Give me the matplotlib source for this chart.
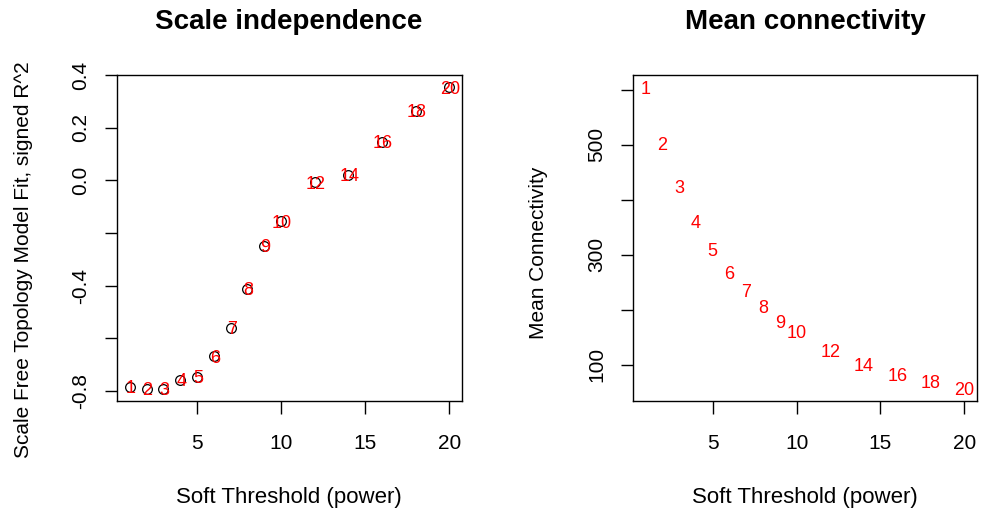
import matplotlib
matplotlib.use("Agg")
import matplotlib.pyplot as plt
import matplotlib.transforms as mtransforms
from matplotlib.ticker import FixedLocator, FixedFormatter

plt.rcParams['font.family'] = ['Liberation Sans', 'DejaVu Sans']

powers = [1, 2, 3, 4, 5, 6, 7, 8, 9, 10, 12, 14, 16, 18, 20]
signed_r2 = [-0.783, -0.792, -0.792, -0.758, -0.745, -0.668, -0.559, -0.412,
             -0.248, -0.155, -0.007, 0.022, 0.147, 0.265, 0.355]
mean_k = [605, 502, 424, 360, 310, 268, 235, 206, 179, 161, 126, 101, 82, 70, 56]

x_ticks = [5, 10, 15, 20]
left_yticks = [-0.8, -0.6, -0.4, -0.2, 0.0, 0.2, 0.4]
left_yticklabels = ['-0.8', '', '-0.4', '', '0.0', '0.2', '0.4']
right_yticks = [100, 200, 300, 400, 500, 600]
right_yticklabels = ['100', '', '300', '', '500', '']

W, H = 982, 519
fig = plt.figure(figsize=(W / 100, H / 100), dpi=100)

def frac_box(l, t, r, b):
    return [l / W, 1 - b / H, (r - l) / W, (b - t) / H]

ax1 = fig.add_axes(frac_box(117, 75, 462, 401))
ax2 = fig.add_axes(frac_box(633, 75, 977, 401))

def rng(vals):
    lo, hi = min(vals), max(vals)
    d = (hi - lo) * 0.04
    return lo - d, hi + d

for ax in (ax1, ax2):
    ax.set_xlim(*rng(powers))
    ax.xaxis.set_major_locator(FixedLocator(x_ticks))
    ax.set_xticklabels([str(v) for v in x_ticks], fontsize=15)
    ax.tick_params(direction='out', length=9, width=1.0, color='black')
    ax.tick_params(axis='x', pad=15)
    ax.tick_params(axis='y', pad=10)
    for s in ax.spines.values():
        s.set_linewidth(1.0)

# left panel
ax1.set_ylim(*rng(signed_r2))
ax1.plot(powers, signed_r2, linestyle='none', marker='o', markersize=7,
         markerfacecolor='none', markeredgecolor='black', markeredgewidth=0.9)
off = mtransforms.offset_copy(ax1.transData, fig=fig, x=1.0, y=0.0, units='dots')
for p, v in zip(powers, signed_r2):
    ax1.text(p, v, str(p), color='red', fontsize=13, ha='center',
             va='center_baseline', transform=off)
ax1.yaxis.set_major_locator(FixedLocator(left_yticks))
ax1.yaxis.set_major_formatter(FixedFormatter(left_yticklabels))
for lab in ax1.get_yticklabels():
    lab.set_rotation(90)
    lab.set_va('center')
    lab.set_fontsize(15)

# right panel
ax2.set_ylim(*rng(mean_k))
for p, v in zip(powers, mean_k):
    ax2.text(p, v, str(p), color='red', fontsize=13, ha='center', va='center_baseline')
ax2.yaxis.set_major_locator(FixedLocator(right_yticks))
ax2.yaxis.set_major_formatter(FixedFormatter(right_yticklabels))
for lab in ax2.get_yticklabels():
    lab.set_rotation(90)
    lab.set_va('center')
    lab.set_fontsize(15)

def ftext(x, y, s, **kw):
    fig.text(x / W, 1 - y / H, s, ha='center', va='center', **kw)

ftext(289, 22, 'Scale independence', fontsize=20, fontweight='bold')
ftext(805, 22, 'Mean connectivity', fontsize=20, fontweight='bold')
ftext(289, 497, 'Soft Threshold (power)', fontsize=16)
ftext(805, 497, 'Soft Threshold (power)', fontsize=16)
ftext(24, 260, 'Scale Free Topology Model Fit, signed R^2', fontsize=15, rotation=90)
ftext(539, 253, 'Mean Connectivity', fontsize=15, rotation=90)

fig.savefig('out.png', dpi=100)
